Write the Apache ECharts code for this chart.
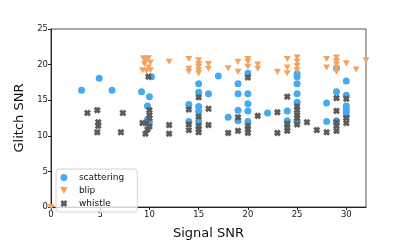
<!DOCTYPE html>
<html><head><meta charset="utf-8">
<script src="https://cdn.jsdelivr.net/npm/echarts@6/dist/echarts.min.js"></script>
<style>html,body{margin:0;padding:0;background:#fff}#c{width:407px;height:245px}</style>
</head><body><div id="c"></div>
<script>
const xTicks = [0, 5, 10, 15, 20, 25, 30];
const yTicks = [0, 5, 10, 15, 20, 25];
const scattering = [
  [3.1,16.4],[4.9,18.1],[6.2,16.4],[9.2,16.2],[10.2,18.3],[10,15.5],[9.8,14.2],[9.8,12.3],[10,11.9],
  [14,14.4],[14,12.0],[15,17.3],[15,16.1],[15,14.1],[15,13.4],[15,12.0],[16,15.9],[17,18.4],
  [18,12.6],[19,17.3],[19,15.9],[19,13.6],[19,12.1],[20,18.8],[20,15.9],[20,14.5],[20,13.5],[20,12.0],
  [22,13.2],[24,13.5],[24,12.1],[25,18.7],[25,18.3],[25,17.3],[25,15.9],[25,14.7],[25,12.0],
  [28,14.6],[28,12.0],[29,19.5],[29,16.2],[29,12.1],[30,17.7],[30,15.7],[30,14.2],[30,13.7],[30,13.3],[30,12.8]
];
const blip = [
  [0,0],
  [9.4,20.9],[9.9,20.9],[9.6,20.5],[10.1,20.3],[9.5,20.1],[9.9,19.6],[9.3,19.2],[9.7,19.1],[10.1,19.2],
  [12,20.4],[14,20.8],[14,19.4],[14,19.0],[15,20.6],[15,20.1],[15,19.7],[15,19.2],[15,18.8],
  [16,20.1],[16,19.4],[18,19.5],[19,20.4],[19,19.0],[20,20.8],[20,20.4],[20,19.7],[21,20.0],[21,19.4],
  [23,19.0],[24,20.8],[24,19.6],[24,18.8],[25,21.0],[25,20.4],[25,19.8],[25,19.2],
  [28,20.8],[28,19.6],[29,21.0],[29,20.5],[29,20.0],[29,19.5],[29,19.0],[30,20.2],[31,19.3],[32,20.6]
];
const whistle = [
  [3.7,13.2],[4.7,13.6],[4.8,11.9],[4.8,11.4],[4.7,10.5],[7.3,13.2],[7.1,10.5],
  [9.9,18.3],[10,13.6],[10,12.9],[10,12.5],[9.3,11.8],[9.7,11.8],[10,11.3],[9.8,10.9],[9.6,10.3],
  [12,11.5],[12,10.3],[14,13.7],[14,11.6],[14,10.8],
  [15,15.4],[15,12.7],[15,11.4],[15,10.9],[15,10.5],[16,13.8],[16,11.5],
  [18,10.4],[19,12.6],[19,10.7],[20,18.2],[20,11.4],[20,10.9],[20,10.4],[21,12.8],
  [23,13.3],[23,10.4],[24,15.5],[24,11.7],[24,11.1],[24,10.7],
  [25,14.1],[25,13.6],[25,12.9],[25,12.5],[25,11.6],[26,11.9],[27,10.8],[28,10.5],
  [29,15.3],[29,13.5],[29,11.9],[29,11.4],[29,10.7],[30,15.2],[30,12.5],[30,11.8]
];
const names = ['scattering', 'blip', 'whistle'];

const X_PATH = 'path://M0,3 L3,0 L5,2 L7,0 L10,3 L8,5 L10,7 L7,10 L5,8 L3,10 L0,7 L2,5 Z';
const TRI_PATH = 'path://M0,0 L10,0 L5,9 Z';
const font = 'DejaVu Sans';

const chart = echarts.init(document.getElementById('c'), null, {renderer: 'canvas'});
chart.setOption({
  animation: false,
  backgroundColor: '#fff',
  grid: {left: 51, top: 29, width: 315, height: 185, show: true, borderColor: '#555', borderWidth: 1},
  legend: {
    data: names, orient: 'vertical', left: 56, top: 169,
    itemWidth: 20, itemHeight: 7, itemGap: 2,
    padding: [3, 13, 3, 4],
    borderColor: '#d4d4d4', borderWidth: 1, borderRadius: 3,
    backgroundColor: 'rgba(255,255,255,0.8)',
    textStyle: {fontFamily: font, fontSize: 9, color: '#111', lineHeight: 11}
  },
  xAxis: {
    type: 'value', min: 0, max: 32, interval: 5,
    name: 'Signal SNR', nameLocation: 'middle', nameGap: 20,
    nameTextStyle: {fontFamily: font, fontSize: 13, color: '#111'},
    axisLine: {lineStyle: {color: '#222', width: 1}},
    axisTick: {length: 3, lineStyle: {color: '#222'}},
    axisLabel: {fontFamily: font, fontSize: 8.5, color: '#222', margin: 3, showMaxLabel: false,
      formatter: v => xTicks.includes(v) ? String(v) : ''},
    splitLine: {show: false}
  },
  yAxis: {
    type: 'value', min: 0, max: 25, interval: 5,
    name: 'Glitch SNR', nameLocation: 'middle', nameGap: 24,
    nameTextStyle: {fontFamily: font, fontSize: 13, color: '#111'},
    axisLine: {lineStyle: {color: '#222', width: 1}},
    axisTick: {length: 3, lineStyle: {color: '#222'}},
    axisLabel: {fontFamily: font, fontSize: 8.5, color: '#222', margin: 3,
      formatter: v => yTicks.includes(v) ? String(v) : ''},
    splitLine: {show: false}
  },
  series: [
    {name: names[0], type: 'scatter', data: scattering, symbol: 'circle', symbolSize: 7, clip: true,
      itemStyle: {color: '#45aaf2', opacity: 1}},
    {name: names[1], type: 'scatter', data: blip, symbol: TRI_PATH, symbolSize: [7, 6], clip: true,
      itemStyle: {color: '#f5a25d', opacity: 1}},
    {name: names[2], type: 'scatter', data: whistle, symbol: X_PATH, symbolSize: 7, clip: true,
      itemStyle: {color: '#5c5c5c', opacity: 1}}
  ]
});
</script></body></html>
